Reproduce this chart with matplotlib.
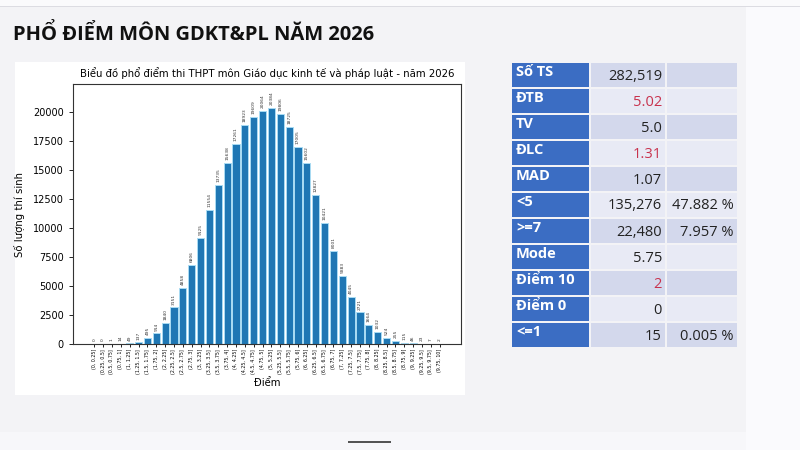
import matplotlib
matplotlib.use("Agg")
import matplotlib.pyplot as plt
from matplotlib.patches import Rectangle

# Counts per 0.25-point bin
bins = [(i * 0.25, (i + 1) * 0.25) for i in range(40)]
counts = [0, 0, 1, 14, 49, 137, 495, 914, 1840, 3151,
          4858, 6806, 9125, 11554, 13735, 15638, 17261, 18923, 19609, 20064,
          20384, 19806, 18725, 17005, 15602, 12827, 10421, 8001, 5883, 4045,
          2721, 1664, 1032, 524, 255, 115, 46, 23, 7, 2]

# Summary table at the right
row_names = ["Số TS", "ĐTB", "TV", "ĐLC", "MAD", "<5", ">=7", "Mode", "Điểm 10", "Điểm 0", "<=1"]
row_values = ["282,519", "5.02", "5.0", "1.31", "1.07", "135,276", "22,480", "5.75", "2", "0", "15"]
row_pct = ["", "", "", "", "", "47.882 %", "7.957 %", "", "", "", "0.005 %"]
red_rows = ["ĐTB", "ĐLC", "Điểm 10"]


def fmt(v):
    return f"{v:g}"


tick_labels = [f"({fmt(a)}, {fmt(b)}]" for a, b in bins]

W, H = 800, 450
fig = plt.figure(figsize=(8, 4.5), dpi=100)
fig.patch.set_facecolor("#f3f3f6")


def box(x0, y0, w, h, color):
    # rectangle in pixel coords (top-left origin), drawn behind the axes
    fig.patches.append(Rectangle((x0 / W, 1 - (y0 + h) / H), w / W, h / H,
                                 transform=fig.transFigure, facecolor=color,
                                 edgecolor="none", zorder=-5))


# slide frame bits
box(0, 0, 800, 6, "#fafafc")
box(0, 6, 800, 1.2, "#dcdce2")
box(746, 7, 54, 443, "#fafafd")
box(0, 432, 746, 18, "#f7f7fa")
box(348, 441, 43, 2, "#555555")

fig.text(13 / W, 1 - 35 / H, "PHỔ ĐIỂM MÔN GDKT&PL NĂM 2026", fontsize=14.5,
         fontweight="bold", family="Open Sans", color="#111111", va="center", ha="left")

# white box of the embedded chart image
box(15, 62, 450, 333, "white")

ax = fig.add_axes([73 / W, 1 - 344 / H, 388 / W, 260 / H])
x = list(range(len(counts)))
ax.bar(x, counts, width=0.82, color="#1f77b4", edgecolor="#a9dcf3", linewidth=0.7)
ax.set_ylim(0, max(counts) * 1.1)
for xi, c in zip(x, counts):
    ax.text(xi, c + 250, str(c), rotation=90, ha="center", va="bottom", fontsize=3.2, color="#333333")
ax.set_xticks(x)
ax.set_xticklabels(tick_labels, rotation=90, fontsize=3.4)
ax.tick_params(axis="x", length=2, width=0.6, pad=1.5)
ax.tick_params(axis="y", labelsize=7, length=3, width=0.6)
ax.set_yticks(range(0, 20001, 2500))
ax.set_title("Biểu đồ phổ điểm thi THPT môn Giáo dục kinh tế và pháp luật - năm 2026",
             fontsize=7.3, pad=5)
ax.set_xlabel("Điểm", fontsize=7.3, labelpad=3)
ax.set_ylabel("Số lượng thí sinh", fontsize=7.3, labelpad=6)
for s in ax.spines.values():
    s.set_linewidth(0.8)
    s.set_color("#333333")

# table
ty0, ty1 = 62, 348
rh = (ty1 - ty0) / len(row_names)
cols = [(512, 589), (591, 665), (667, 737)]
for i, name in enumerate(row_names):
    top = ty0 + i * rh
    shade = "#d3d8ec" if i % 2 == 0 else "#e8eaf5"
    for j, (c0, c1) in enumerate(cols):
        box(c0, top + 1, c1 - c0, rh - 2, "#3b6dc3" if j == 0 else shade)
    yc = 1 - (top + rh / 2) / H
    fig.text(516 / W, yc + 3 / H, name, color="white", fontsize=10.5, fontweight="bold",
             family="Open Sans", va="center", ha="left")
    vcolor = "#c8324d" if name in red_rows else "#222222"
    fig.text(662 / W, yc - 1 / H, row_values[i], color=vcolor, fontsize=10.5, family="Open Sans",
             va="center", ha="right")
    if row_pct[i]:
        fig.text(734 / W, yc - 1 / H, row_pct[i], color="#222222", fontsize=10.5,
                 family="Open Sans", va="center", ha="right")

fig.savefig("out.png", dpi=100, facecolor=fig.get_facecolor())
